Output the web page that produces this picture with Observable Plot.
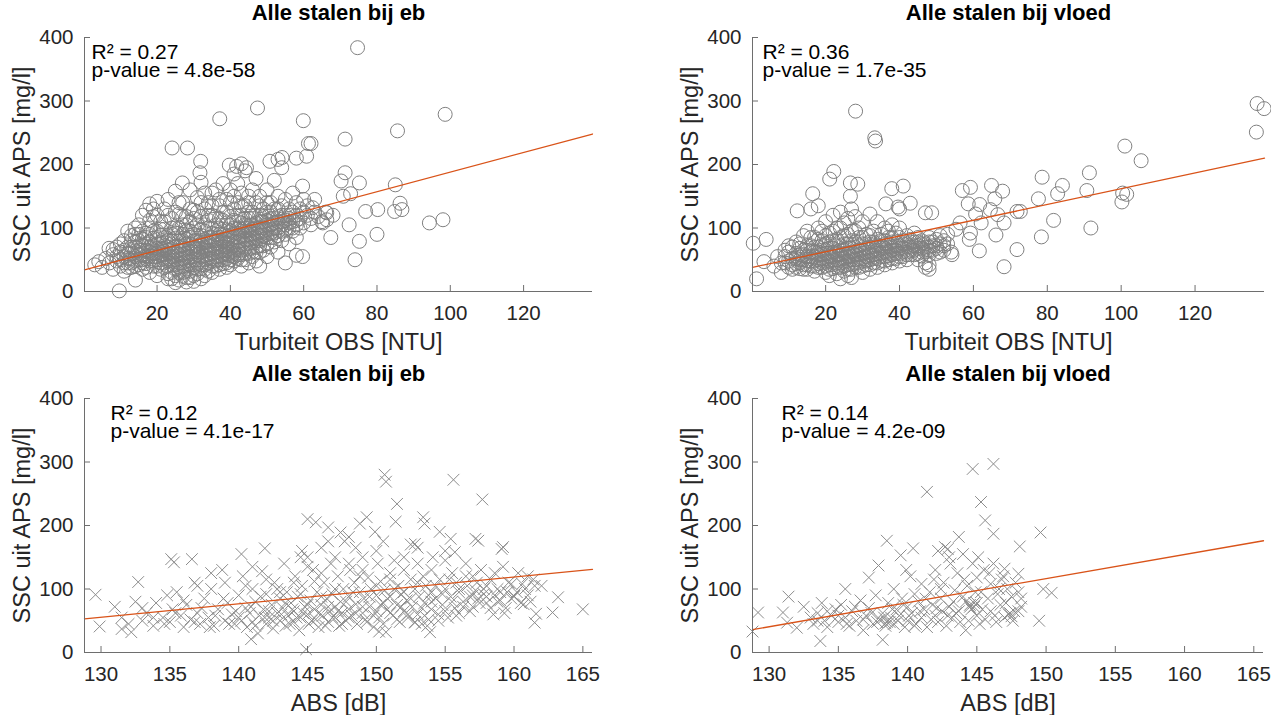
<!DOCTYPE html>
<html>
<head>
<meta charset="utf-8">
<script src="https://cdn.jsdelivr.net/npm/d3@7"></script>
<script src="https://cdn.jsdelivr.net/npm/@observablehq/plot@0.6"></script>
<style>
  html, body { margin: 0; padding: 0; background: #fff; }
  #wrap { position: relative; width: 1271px; height: 715px; overflow: hidden; background: #fff; }
  .panel { position: absolute; }
</style>
</head>
<body>
<div id="wrap">
  <div class="panel" id="p1" style="left:0px;top:0px"></div>
  <div class="panel" id="p2" style="left:636px;top:0px"></div>
  <div class="panel" id="p3" style="left:0px;top:358px"></div>
  <div class="panel" id="p4" style="left:636px;top:358px"></div>
</div>
<script>
// ---------- texts & ticks ----------
const titles = ["Alle stalen bij eb", "Alle stalen bij vloed", "Alle stalen bij eb", "Alle stalen bij vloed"];
const xLabels = ["Turbiteit OBS [NTU]", "Turbiteit OBS [NTU]", "ABS [dB]", "ABS [dB]"];
const yLabel = "SSC uit APS [mg/l]";
const stats = ["R² = 0.27\np-value = 4.8e-58", "R² = 0.36\np-value = 1.7e-35", "R² = 0.12\np-value = 4.1e-17", "R² = 0.14\np-value = 4.2e-09"];
const xTicksObs = [20, 40, 60, 80, 100, 120];
const xTicksAbs = [130, 135, 140, 145, 150, 155, 160, 165];
const yTicks = [0, 100, 200, 300, 400];
const xDomainObs = [0.2, 138.8];
const xDomainAbs = [128.8, 165.7];
const yDomain = [0, 400];

// ---------- fitted regression lines (end points) ----------
const fitObsEb = [[0.2, 34], [138.8, 248]];
const fitObsVloed = [[0.2, 38], [138.8, 210]];
const fitAbsEb = [[128.8, 53], [165.7, 131]];
const fitAbsVloed = [[128.8, 36], [165.7, 176]];

// ---------- scatter data: [x, SSC] ----------
const obsEbA = [
  [74.7,384],[47.4,289],[37.1,272],[59.9,269],[98.6,279],[85.6,253],[71.3,240],[24.1,226],[28.3,226],[31.9,205],
  [61.3,233],[62,233],[60.8,213],[58,210],[39.7,199],[41.7,197],[43,201],[44.4,195],[50.8,205],[53,208],[54.1,211],
  [31.7,187],[26.9,171],[70.2,174],[75.2,171],[85,168],[71.3,187],[72.8,154],[70.8,150],[86.3,139],[86.8,129],
  [84.8,126],[76.9,126],[80.2,129],[94.3,108],[98,113],[72.4,105],[67.4,85],[75.2,79],[80,90],[74,50],[66.3,113],
  [65.2,108],[63,145],[62.4,132],[66.3,124],[59.7,166],[59.7,55],[58,57],[9.7,1],[3,42],[4.1,47],[6.9,68],[8,66],[14.1,18],
  [5,38],[6,52],[7,45],[8,58],[8,35],[9,70],[9,48],[10,62],[10,40],[11,55],[11,80],[11,32],
  [12,60],[12,45],[12,95],[13,70],[13,52],[13,88],[13,38],[14,100],[14,64],[14,48],[14,78],[15,58],[15,42],[15,105],
  [15,72],[15,90],[16,65],[16,50],[16,82],[16,35],[16,120],[17,56],[17,75],[17,92],[17,44],[17,128],[18,62],[18,48],
  [18,70],[18,100],[18,138],[18,30],[19,55],[19,84],[19,66],[19,118],[19,40],[20,60],[20,75],[20,50],[20,95],[20,142],
  [20,25],[21,68],[21,45],[21,88],[21,58],[21,110],[22,72],[22,52],[22,64],[22,38],[22,98],[22,130],[23,60],[23,80],
  [23,48],[23,70],[23,28],[23,145],[24,55],[24,66],[24,90],[24,42],[24,75],[24,115],[24,20],[25,62],[25,50],[25,84],
  [25,35],[25,158],[25,100],[25,14],[26,70],[26,58],[26,45],[26,92],[26,30],[26,122],[26,18],[27,65],[27,52],[27,80],
  [27,40],[27,105],[27,24],[27,140],[28,75],[28,60],[28,48],[28,95],[28,32],[28,118],[28,15],[29,68],[29,85],[29,55],
  [29,42],[29,110],[29,160],[29,22],[30,72],[30,62],[30,90],[30,50],[30,38],[30,128],[30,100],[30,16],[31,80],[31,66],
  [31,58],[31,105],[31,44],[31,28],[31,148],[32,75],[32,88],[32,62],[32,50],[32,118],[32,36],[32,20],[32,172],[33,70],
  [33,95],[33,82],[33,56],[33,130],[33,42],[33,25],[34,78],[34,65],[34,100],[34,52],[34,140],[34,112],[34,32],[35,85],
  [35,72],[35,60],[35,92],[35,48],[35,120],[35,155],[35,30],[36,80],[36,68],[36,105],[36,55],[36,40],[36,160],[37,90],
  [37,75],[37,62],[37,115],[37,50],[37,135],[37,35],[38,82],[38,70],[38,98],[38,58],[38,125],[38,44],[38,170],[39,88],
  [39,76],[39,64],[39,108],[39,52],[39,145],[39,38],[40,95],[40,80],[40,68],[40,118],[40,56],[40,160],[40,42],[41,85],
  [41,72],[41,100],[41,60],[41,130],[41,48],[41,185],[42,92],[42,78],[42,110],[42,65],[42,140],[42,52],[42,170],[43,88],
  [43,98],[43,74],[43,120],[43,58],[43,155],[43,40],[44,95],[44,82],[44,105],[44,68],[44,135],[44,50],[44,190],[45,90],
  [45,100],[45,115],[45,76],[45,60],[45,150],[45,45],[46,98],[46,85],[46,125],[46,70],[46,160],[46,55],[47,92],[47,108],
  [47,80],[47,140],[47,62],[47,48],[47,178],[48,100],[48,88],[48,120],[48,72],[48,150],[48,40],[49,95],[49,110],[49,82],
  [49,130],[49,65],[50,105],[50,90],[50,125],[50,75],[50,160],[50,55],[51,98],[51,115],[51,85],[51,140],[51,70],[52,108],
  [52,92],[52,130],[52,78],[52,175],[53,100],[53,118],[53,88],[53,150],[53,62],[54,110],[54,95],[54,135],[54,80],[54,195],
  [55,105],[55,120],[55,90],[55,145],[55,45],[56,115],[56,100],[56,130],[56,75],[57,110],[57,125],[57,95],[57,155],[58,120],
  [58,105],[58,140],[58,85],[59,115],[59,130],[59,100],[60,125],[60,145],[60,108],[61,120],[61,135],[62,115],[62,105],
  [63,125],[64,118],[65,110],[66,125],[68,120]
];
const obsEbB = [
  [9,55],[10,50],[10,75],[11,65],[11,45],[12,52],[12,70],[12,38],[13,60],[13,80],[13,45],[14,55],[14,70],[14,40],[14,90],
  [15,50],[15,65],[15,80],[16,58],[16,72],[16,45],[16,95],[17,65],[17,52],[17,85],[17,38],[18,55],[18,78],[18,90],[18,112],
  [19,60],[19,72],[19,48],[19,95],[19,130],[20,68],[20,55],[20,85],[20,40],[20,120],[21,62],[21,75],[21,50],[21,98],[21,35],
  [22,58],[22,85],[22,68],[22,45],[22,110],[23,65],[23,52],[23,88],[23,40],[23,120],[23,20],[24,60],[24,80],[24,48],[24,100],
  [24,30],[25,70],[25,55],[25,92],[25,42],[25,125],[25,25],[26,65],[26,80],[26,52],[26,100],[26,38],[26,140],[27,72],[27,58],
  [27,90],[27,45],[27,118],[27,30],[28,68],[28,82],[28,55],[28,105],[28,40],[28,22],[29,75],[29,62],[29,95],[29,48],[29,130],
  [29,32],[30,80],[30,68],[30,55],[30,115],[30,42],[30,25],[31,72],[31,88],[31,62],[31,50],[31,125],[31,35],[32,80],[32,68],
  [32,98],[32,55],[32,140],[32,42],[33,78],[33,65],[33,105],[33,50],[33,155],[33,35],[34,85],[34,72],[34,58],[34,120],[34,45],
  [35,80],[35,65],[35,100],[35,52],[35,135],[35,40],[36,90],[36,75],[36,62],[36,118],[36,48],[37,85],[37,70],[37,100],[37,55],
  [37,145],[37,42],[38,90],[38,78],[38,64],[38,112],[38,50],[39,95],[39,82],[39,70],[39,125],[39,58],[39,45],[40,88],[40,75],
  [40,105],[40,62],[40,140],[40,50],[41,92],[41,78],[41,112],[41,65],[41,150],[41,55],[42,98],[42,85],[42,120],[42,70],[42,58],
  [43,95],[43,80],[43,108],[43,65],[43,135],[43,50],[44,100],[44,88],[44,115],[44,75],[44,60],[45,95],[45,82],[45,125],[45,68],
  [45,140],[46,105],[46,90],[46,115],[46,78],[46,62],[47,100],[47,85],[47,120],[47,70],[48,95],[48,110],[48,80],[48,135],
  [48,62],[49,100],[49,88],[49,118],[49,72],[50,98],[50,112],[50,85],[50,140],[51,105],[51,92],[51,125],[52,100],[52,115],
  [52,85],[53,110],[53,95],[53,130],[54,105],[54,120],[55,98],[55,112],[56,108],[56,120],[57,100],[58,112]
];

const obsVloedA = [
  [28.1,284],[33.3,242],[33.5,237],[136.8,296],[138.7,288],[136.6,251],[101,229],[105.4,206],[91.4,187],[78.6,180],
  [90.7,159],[84.1,167],[82.8,154],[77.6,146],[100.4,155],[101.5,153],[100.2,141],[91.8,100],[81.7,112],[78.4,86],
  [71.8,126],[72.7,126],[67.9,158],[64.9,167],[65.8,146],[64.6,129],[66.6,121],[68.3,108],[66.1,89],[61.6,64],[68.3,39],
  [71.8,66],[57,159],[59.2,164],[58.6,138],[60.6,122],[62.1,108],[61.7,137],[58.9,82],[59.2,92],[55.3,98],[56.4,108],
  [54.2,58],[22.2,189],[21.1,177],[26.7,171],[28.7,169],[37.9,162],[41,166],[36.3,138],[39.6,133],[42.9,139],[16.5,154],
  [26.7,150],[12.3,127],[0.4,76],[3.9,82],[1.3,20],[3.3,47],[47,124],[48.7,124],
  [6,40],[7,55],[8,30],[9,65],[9,45],[10,72],[10,38],[11,52],[11,35],[12,60],[12,44],[12,78],[13,50],[13,36],[13,68],
  [14,58],[14,42],[14,88],[15,48],[15,65],[15,35],[15,95],[16,55],[16,72],[16,40],[16,130],[17,62],[17,48],[17,85],[17,32],
  [18,58],[18,70],[18,44],[18,100],[18,135],[19,52],[19,65],[19,38],[19,80],[20,60],[20,48],[20,75],[20,30],[20,110],
  [21,55],[21,68],[21,42],[21,92],[21,25],[22,62],[22,50],[22,80],[22,36],[22,120],[23,58],[23,72],[23,45],[23,100],
  [23,28],[24,65],[24,52],[24,85],[24,38],[24,125],[24,20],[25,60],[25,48],[25,75],[25,32],[25,108],[26,68],[26,55],
  [26,90],[26,42],[26,115],[26,25],[27,62],[27,50],[27,80],[27,35],[27,130],[27,22],[28,70],[28,58],[28,95],[28,45],
  [28,118],[29,65],[29,52],[29,85],[29,38],[29,100],[30,60],[30,75],[30,48],[30,110],[30,30],[31,68],[31,55],[31,90],
  [31,42],[32,62],[32,78],[32,50],[32,122],[32,35],[33,70],[33,58],[33,95],[33,45],[34,65],[34,82],[34,52],[34,110],
  [34,38],[35,72],[35,60],[35,90],[35,48],[36,68],[36,80],[36,55],[36,100],[36,42],[37,75],[37,62],[37,95],[37,50],
  [38,70],[38,85],[38,58],[38,105],[38,45],[39,78],[39,65],[39,92],[39,52],[40,72],[40,60],[40,100],[40,48],[40,130],
  [41,80],[41,68],[41,55],[42,75],[42,88],[42,62],[42,50],[43,70],[43,82],[43,58],[44,78],[44,65],[44,92],[45,72],
  [45,60],[45,85],[45,50],[46,80],[46,68],[46,56],[47,75],[47,62],[47,45],[47,38],[48,85],[48,70],[48,58],[48,42],
  [48,35],[49,78],[49,65],[50,82],[50,72],[50,60],[51,88],[51,75],[52,80],[52,65],[53,90],[53,75],[54,62]
];
const obsVloedB = [
  [8,45],[9,55],[10,48],[10,62],[11,42],[11,70],[12,52],[12,38],[13,58],[13,45],[13,75],[14,50],[14,65],[14,35],[15,55],
  [15,42],[15,72],[16,48],[16,62],[16,85],[17,55],[17,40],[17,70],[18,50],[18,62],[18,38],[18,82],[19,58],[19,45],[19,72],
  [19,95],[20,52],[20,65],[20,40],[20,88],[21,60],[21,48],[21,78],[21,35],[22,55],[22,68],[22,42],[22,95],[23,62],[23,50],
  [23,82],[23,38],[24,58],[24,72],[24,45],[24,100],[25,65],[25,52],[25,88],[25,40],[26,60],[26,75],[26,48],[26,35],[27,68],
  [27,55],[27,95],[27,42],[28,62],[28,78],[28,50],[28,38],[29,72],[29,58],[29,45],[30,65],[30,85],[30,52],[30,40],[31,75],
  [31,62],[31,48],[32,70],[32,58],[32,88],[32,42],[33,65],[33,78],[33,52],[34,72],[34,60],[34,45],[35,68],[35,80],[35,55],
  [36,75],[36,62],[36,48],[37,70],[37,85],[37,56],[38,65],[38,78],[38,52],[39,72],[39,60],[40,68],[40,85],[40,55],[41,75],
  [41,62],[42,70],[42,58],[43,78],[43,65],[44,72],[44,58],[45,68],[45,78],[46,62],[46,75],[47,70],[48,65],[48,78],[49,72],
  [50,68],[51,62],[52,72]
];

const absEbA = [
  [150.6,280],[150.7,269],[155.6,272],[157.7,241],[151.5,234],[151.4,206],[145,210],[145.6,205],[153.4,213],[153.5,203],
  [152.8,171],[154.6,190],[155.4,179],[155.7,158],[157.2,179],[157.4,176],[159.2,166],[149.3,213],[148.8,203],[149.9,190],
  [147.4,189],[148,182],[146.5,197],[141.9,164],[140.2,155],[135.1,147],[135.3,142],[136.6,147],[132.7,111],[129.6,91],
  [129.9,41],[131.5,37],[132.2,32],[163.2,87],[162.8,63],[165,68],[161.6,61],[161.5,47],[160.7,76],[160,89],[144.9,5],[140.9,21],
  [153.9,32],[153.7,42],[152.8,47],[150.2,33],[159.1,163],
  [131,72],[131.5,55],[132,45],[132.5,80],[133,50],[133.3,62],[133.8,42],[134,78],[134.5,55],[134.8,90],[135,48],
  [135.2,68],[135.5,95],[135.8,58],[136,40],[136.2,75],[136.5,52],[136.8,110],[137,62],[137.2,45],[137.5,85],[137.8,55],
  [138,100],[138.2,42],[138.5,68],[138.8,130],[139,50],[139.2,78],[139.5,60],[139.7,45],[140,90],[140,55],[140.3,120],
  [140.5,70],[140.6,40],[140.8,62],[141,100],[141,48],[141.2,80],[141.4,30],[141.5,58],[141.7,128],[141.8,68],[142,45],
  [142,92],[142.2,55],[142.4,75],[142.5,38],[142.6,110],[142.8,62],[143,85],[143,50],[143.2,70],[143.3,140],[143.4,42],
  [143.5,95],[143.6,58],[143.8,78],[144,48],[144,65],[144.1,120],[144.3,88],[144.4,35],[144.5,55],[144.6,105],[144.8,72],
  [145,60],[145,150],[145.1,45],[145.2,82],[145.4,130],[145.5,68],[145.6,52],[145.7,95],[145.8,40],[146,75],[146,165],
  [146.1,58],[146.2,110],[146.4,85],[146.5,48],[146.6,65],[146.7,140],[146.8,92],[147,55],[147,72],[147.2,120],[147.3,42],
  [147.4,80],[147.5,62],[147.6,100],[147.7,175],[147.8,50],[148,88],[148,68],[148.1,130],[148.2,58],[148.4,110],[148.5,76],
  [148.6,45],[148.8,95],[149,62],[149,150],[149.1,85],[149.2,52],[149.4,118],[149.5,72],[149.6,100],[149.8,40],[150,90],
  [150,65],[150.1,140],[150.2,55],[150.3,112],[150.5,78],[150.6,98],[150.7,32],[150.8,68],[151,125],[151,88],[151.2,58],
  [151.3,145],[151.5,75],[151.6,105],[151.7,48],[151.8,92],[152,65],[152,130],[152.2,82],[152.3,55],[152.5,115],[152.6,72],
  [152.8,100],[153,60],[153,140],[153.1,88],[153.3,45],[153.4,120],[153.5,78],[153.6,105],[153.8,52],[154,95],[154,68],
  [154.1,150],[154.3,85],[154.5,60],[154.6,115],[154.8,75],[155,100],[155,145],[155.2,55],[155.4,88],[155.5,125],[155.7,70],
  [155.8,110],[156,62],[156,95],[156.3,80],[156.5,140],[156.6,105],[156.8,88],[157,120],[157,72],[157.2,98],[157.4,85],
  [157.6,130],[157.8,92],[158,105],[158,78],[158.3,115],[158.5,60],[158.6,90],[158.8,100],[159,82],[159.2,135],[159.4,70],
  [159.5,95],[159.8,108],[160,88],[160.3,125],[160.5,78],[160.8,100],[161,120],[161.2,80],[161.5,105]
];
const absEbB = [
  [133,70],[133.8,55],[134.6,45],[135.4,62],[136,82],[136.8,48],[137.3,70],[137.9,40],[138.3,58],[138.9,85],[139.3,45],
  [139.8,65],[140.2,50],[140.5,105],[140.9,72],[141.2,42],[141.6,88],[141.9,55],[142.2,65],[142.5,50],[142.8,100],[143.1,60],
  [143.4,78],[143.7,45],[143.9,68],[144.2,55],[144.5,92],[144.7,62],[145,75],[145.3,50],[145.5,112],[145.8,62],[146,88],
  [146.3,42],[146.5,72],[146.8,55],[147,100],[147.2,65],[147.5,45],[147.8,80],[148,55],[148.3,95],[148.5,62],[148.8,120],
  [149,72],[149.3,48],[149.5,88],[149.8,58],[150,105],[150.3,75],[150.5,45],[150.8,85],[151,62],[151.3,100],[151.5,52],
  [151.8,72],[152,95],[152.3,60],[152.5,85],[152.8,48],[153,110],[153.3,70],[153.5,58],[153.8,90],[154,80],[154.3,105],
  [154.5,50],[154.8,92],[155,65],[155.3,115],[155.5,80],[155.8,58],[156,100],[156.3,72],[156.5,120],[156.8,65],[157,90],
  [157.3,110],[157.5,78],[157.8,100],[158,88],[158.3,70],[158.6,125],[158.8,80],[159,95],[159.3,62],[159.6,110],[159.8,85],
  [160.2,95],[160.6,108],[161,90],[161.4,115],[162,105],[143,95],[144,110],[145,135],[146,125],[147,150],[148,140],[149,130],
  [150,160],[151,115],[152,150],[153,165],[154,130],[155,160],[142,115],[141,135],[139,110],[138,125],[137,105],[144.5,150],
  [146.5,175],[148.5,165],[150.5,175],[152.5,170],[144.6,160]
];

const absVloedA = [
  [146.2,297],[144.7,289],[141.4,253],[145.3,237],[145.6,208],[146.2,187],[149.6,189],[138.5,176],[143.7,182],[148.1,167],
  [140.4,164],[142.7,166],[142.9,163],[139.5,153],[137.9,137],[137.2,118],[135.5,100],[131.4,88],[129.2,63],[128.8,33],
  [133.7,18],[138.2,20],[149.8,100],[150.4,94],[149.5,50],[148.2,72],[148,124],[147,132],[131,63],[131.3,47],[132,39],
  [144.2,80],[144.5,75],[147.3,60],[144.8,72],[145,78],[147.5,57],[138.4,46],[138.7,48],
  [132.5,72],[133,55],[133.2,45],[133.5,62],[133.8,78],[134,50],[134.2,40],[134.5,58],[134.8,68],[135,48],[135.2,75],
  [135.5,55],[135.8,42],[136,65],[136.3,50],[136.6,82],[136.8,35],[137,58],[137.2,70],[137.5,45],[137.7,90],[138,52],
  [138.2,62],[138.4,42],[138.5,48],[138.6,78],[138.8,55],[139,100],[139,45],[139.2,68],[139.4,58],[139.6,85],[139.8,40],
  [140,72],[140,50],[140.2,120],[140.3,62],[140.5,92],[140.6,45],[140.8,80],[141,55],[141,108],[141.2,68],[141.4,40],
  [141.6,95],[141.8,75],[142,58],[142,130],[142.2,48],[142.4,85],[142.5,65],[142.6,110],[142.8,42],[143,72],[143,150],
  [143.2,55],[143.4,98],[143.5,62],[143.6,125],[143.8,48],[144,88],[144,155],[144.2,35],[144.3,105],[144.5,72],[144.6,68],
  [144.7,140],[144.8,78],[145,58],[145,118],[145.2,45],[145.3,95],[145.5,130],[145.6,52],[145.8,85],[146,108],[146,65],
  [146.2,140],[146.4,48],[146.5,92],[146.7,75],[146.8,115],[147,55],[147.2,100],[147.4,62],[147.5,88],[147.6,50],
  [147.8,110],[148,65],[148,95]
];
const absVloedB = [
  [133.5,50],[134.2,65],[135,58],[135.6,45],[136.2,72],[136.8,52],[137.4,62],[137.8,48],[138.3,55],[138.9,68],[139.3,50],
  [139.7,75],[140.1,58],[140.5,42],[140.9,65],[141.3,85],[141.7,52],[142.1,70],[142.4,100],[142.9,58],[143.3,80],[143.7,65],
  [144.1,115],[144.4,50],[144.9,95],[145.4,68],[145.9,125],[146.3,58],[146.6,100],[147.1,78],[147.7,65],[148.2,85],[143.1,140],
  [142.2,160],[139.9,130],[141.9,115],[145.1,150],[146.9,120]
];

// ---------- drawing ----------
const FONT = "'Liberation Sans', Arial, Helvetica, sans-serif";
const TEXT = "#262626";
const AXIS = "#6e6e6e";

function panel(el, cfg) {
  const {width, height, ml, mr, mt, mb, data, symbol, xDomain, xTicks, fit, title, xLabel, stat, sdx, sdy} = cfg;
  const innerW = width - ml - mr, innerH = height - mt - mb;
  const isCircle = symbol === "circle";
  const chart = Plot.plot({
    width, height,
    marginLeft: ml, marginRight: mr, marginTop: mt, marginBottom: mb,
    style: {fontFamily: FONT, background: "#fff", color: TEXT, overflow: "visible"},
    x: {domain: xDomain, label: null},
    y: {domain: yDomain, label: null},
    marks: [
      Plot.dot(data, {
        x: d => d[0], y: d => d[1], symbol,
        r: isCircle ? 7 : 5.4,
        stroke: isCircle ? "#808080" : "#8c8c8c",
        strokeWidth: 1, fill: "none"
      }),
      Plot.line(fit, {x: d => d[0], y: d => d[1], stroke: "#D95319", strokeWidth: 1.3}),
      Plot.ruleY([yDomain[0]], {stroke: AXIS, strokeWidth: 1}),
      Plot.ruleX([xDomain[0]], {stroke: AXIS, strokeWidth: 1}),
      Plot.ruleX(xTicks, {stroke: AXIS, strokeWidth: 1, insetTop: innerH - 6}),
      Plot.ruleY(yTicks, {stroke: AXIS, strokeWidth: 1, insetRight: innerW - 6}),
      Plot.axisX({ticks: xTicks, tickSize: 0, tickPadding: 14, fontSize: 20.5, fill: TEXT, label: null}),
      Plot.axisY({ticks: yTicks, tickSize: 0, tickPadding: 11, fontSize: 20.5, fill: TEXT, label: null}),
      Plot.text([stat], {frameAnchor: "top-left", dx: sdx, dy: sdy, textAnchor: "start", lineAnchor: "top",
        lineHeight: 0.86, fontSize: 21, fill: "#000"}),
      Plot.text([title], {frameAnchor: "top", dy: -25, lineAnchor: "middle", textAnchor: "middle",
        fontSize: 22, fontWeight: "bold", fill: "#000"}),
      Plot.text([xLabel], {frameAnchor: "bottom", dy: 51, lineAnchor: "middle", textAnchor: "middle",
        fontSize: 23.5, fill: TEXT}),
      Plot.text([yLabel], {frameAnchor: "left", dx: -62, rotate: -90, lineAnchor: "middle", textAnchor: "middle",
        fontSize: 23.5, fill: TEXT})
    ]
  });
  document.getElementById(el).appendChild(chart);
}

panel("p1", {width: 636, height: 358, ml: 84, mr: 44, mt: 37, mb: 67, data: obsEbA.concat(obsEbB), symbol: "circle",
  xDomain: xDomainObs, xTicks: xTicksObs, fit: fitObsEb, title: titles[0], xLabel: xLabels[0], stat: stats[0], sdx: 7, sdy: 9});
panel("p2", {width: 635, height: 358, ml: 116, mr: 7, mt: 37, mb: 67, data: obsVloedA.concat(obsVloedB), symbol: "circle",
  xDomain: xDomainObs, xTicks: xTicksObs, fit: fitObsVloed, title: titles[1], xLabel: xLabels[1], stat: stats[1], sdx: 10, sdy: 9});
panel("p3", {width: 636, height: 357, ml: 84, mr: 44, mt: 40, mb: 63, data: absEbA.concat(absEbB), symbol: "times",
  xDomain: xDomainAbs, xTicks: xTicksAbs, fit: fitAbsEb, title: titles[2], xLabel: xLabels[2], stat: stats[2], sdx: 26, sdy: 9});
panel("p4", {width: 635, height: 357, ml: 116, mr: 8, mt: 40, mb: 63, data: absVloedA.concat(absVloedB), symbol: "times",
  xDomain: xDomainAbs, xTicks: xTicksAbs, fit: fitAbsVloed, title: titles[3], xLabel: xLabels[3], stat: stats[3], sdx: 29, sdy: 9});
</script>
</body>
</html>
